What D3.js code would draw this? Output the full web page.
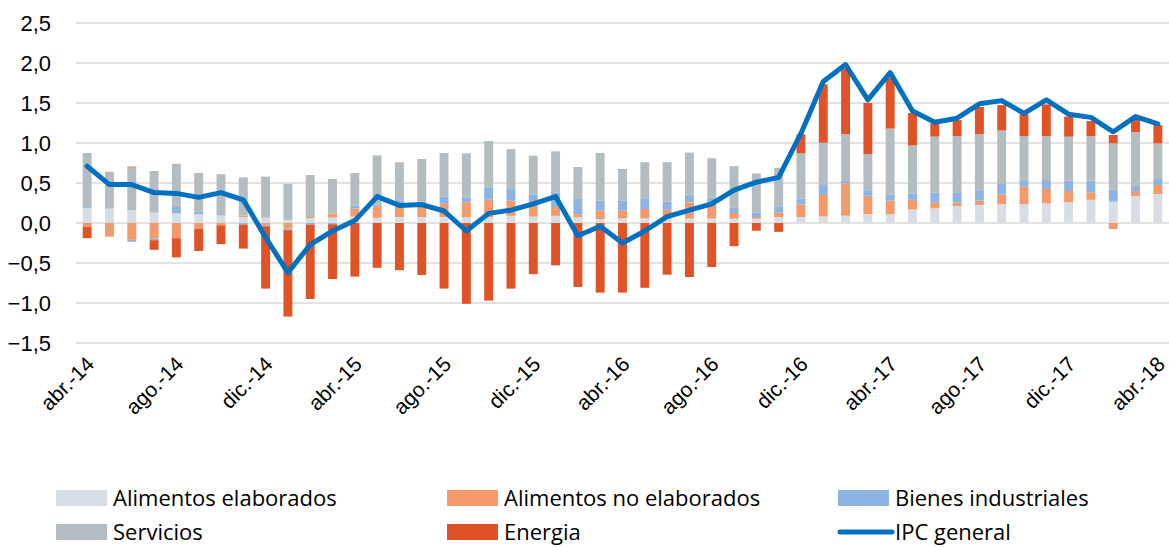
<!DOCTYPE html>
<html>
<head>
<meta charset="utf-8">
<script src="https://cdn.jsdelivr.net/npm/d3@7"></script>
<style>
  body { margin: 0; background: #fff; }
  svg { display: block; font-family: "Open Sans", Lato, sans-serif; }
  .grid line { stroke: #d9d9d9; stroke-width: 1.5; }
  .y-axis text { font-size: 22px; fill: #000; }
  .x-axis text { font-size: 21px; fill: #000; }
  .legend text { font-size: 22px; fill: #000; }
</style>
</head>
<body>
<div id="chart"></div>
<script>
(function (d3) {
    'use strict';

    var months = [
        'abr.-14', 'may.-14', 'jun.-14', 'jul.-14', 'ago.-14', 'sep.-14', 'oct.-14', 'nov.-14', 'dic.-14',
        'ene.-15', 'feb.-15', 'mar.-15', 'abr.-15', 'may.-15', 'jun.-15', 'jul.-15', 'ago.-15', 'sep.-15',
        'oct.-15', 'nov.-15', 'dic.-15', 'ene.-16', 'feb.-16', 'mar.-16', 'abr.-16', 'may.-16', 'jun.-16',
        'jul.-16', 'ago.-16', 'sep.-16', 'oct.-16', 'nov.-16', 'dic.-16', 'ene.-17', 'feb.-17', 'mar.-17',
        'abr.-17', 'may.-17', 'jun.-17', 'jul.-17', 'ago.-17', 'sep.-17', 'oct.-17', 'nov.-17', 'dic.-17',
        'ene.-18', 'feb.-18', 'mar.-18', 'abr.-18'
    ];

    var alimentosElaborados = [
        0.19, 0.18, 0.16, 0.13, 0.12, 0.11, 0.095, 0.075, 0.065,
        0.04, 0.06, 0.067, 0.08, 0.065, 0.075, 0.075, 0.075, 0.07,
        0.07, 0.09, 0.08, 0.09, 0.07, 0.05, 0.058, 0.058, 0.054,
        0.054, 0.054, 0.054, 0.054, 0.075, 0.075, 0.083, 0.092, 0.11,
        0.11, 0.17, 0.183, 0.21, 0.225, 0.237, 0.237, 0.246, 0.258,
        0.29, 0.267, 0.337, 0.362
    ];
    var alimentosNoElaborados = [
        -0.05, -0.17, -0.21, -0.195, -0.19, -0.07, -0.03, 0.015, -0.03,
        -0.07, 0.015, 0.05, 0.10, 0.145, 0.14, 0.175, 0.165, 0.19,
        0.22, 0.19, 0.178, 0.11, 0.04, 0.104, 0.096, 0.117, 0.113,
        0.204, 0.204, 0.071, 0.021, 0.058, 0.158, 0.267, 0.404, 0.23,
        0.17, 0.12, 0.077, 0.046, 0.055, 0.12, 0.217, 0.179, 0.142,
        0.09, -0.075, 0.062, 0.112
    ];
    var bienesIndustriales = [
        0.01, 0, -0.025, -0.02, 0.08, 0.03, 0.005, -0.02, -0.01,
        -0.02, -0.02, -0.015, 0.035, 0.02, 0.07, 0.02, 0.09, 0.06,
        0.156, 0.145, 0.096, 0.183, 0.19, 0.129, 0.129, 0.135, 0.103,
        0.096, 0.062, 0.071, 0.058, 0.077, 0.075, 0.125, 0.029, 0.07,
        0.074, 0.077, 0.12, 0.12, 0.12, 0.13, 0.086, 0.112, 0.13,
        0.15, 0.15, 0.062, 0.075
    ];
    var servicios = [
        0.675, 0.46, 0.535, 0.52, 0.54, 0.485, 0.51, 0.48, 0.515,
        0.45, 0.525, 0.433, 0.41, 0.615, 0.475, 0.53, 0.545, 0.55,
        0.58, 0.50, 0.486, 0.513, 0.40, 0.592, 0.392, 0.45, 0.49,
        0.526, 0.49, 0.514, 0.487, 0.48, 0.562, 0.529, 0.585, 0.45,
        0.826, 0.603, 0.70, 0.71, 0.71, 0.67, 0.547, 0.55, 0.549,
        0.557, 0.579, 0.675, 0.446
    ];
    var energia = [
        -0.14, 0, 0.01, -0.12, -0.24, -0.28, -0.235, -0.30, -0.78,
        -1.08, -0.93, -0.685, -0.67, -0.56, -0.59, -0.65, -0.82, -1.01,
        -0.97, -0.82, -0.64, -0.53, -0.80, -0.87, -0.87, -0.81, -0.646,
        -0.675, -0.55, -0.29, -0.096, -0.11, 0.238, 0.729, 0.815, 0.64,
        0.637, 0.405, 0.166, 0.20, 0.34, 0.317, 0.272, 0.395, 0.251,
        0.187, 0.104, 0.172, 0.229
    ];
    var ipcGeneral = [
        0.71, 0.48, 0.48, 0.38, 0.37, 0.32, 0.38, 0.29, -0.18,
        -0.62, -0.27, -0.10, 0.03, 0.33, 0.22, 0.23, 0.15, -0.10,
        0.12, 0.16, 0.24, 0.33, -0.16, -0.04, -0.25, -0.10, 0.08,
        0.16, 0.24, 0.41, 0.51, 0.57, 1.12, 1.77, 1.98, 1.54,
        1.88, 1.40, 1.26, 1.31, 1.49, 1.53, 1.37, 1.54, 1.36,
        1.32, 1.14, 1.33, 1.24
    ];

    var yTicks = [-1.5, -1.0, -0.5, 0, 0.5, 1.0, 1.5, 2.0, 2.5];

    var seriesNames = ['Alimentos elaborados', 'Alimentos no elaborados', 'Bienes industriales', 'Servicios', 'Energia'];
    var seriesValues = [alimentosElaborados, alimentosNoElaborados, bienesIndustriales, servicios, energia];
    var colors = ['#d6dde4', '#f4996a', '#8db3e2', '#b3bdc1', '#e05326'];
    var lineColor = '#0070c0';

    // Dimensions of the chart.
    var margin = {top: 23, right: 0, bottom: 205, left: 76};
    var width = 1169 - margin.left - margin.right;
    var height = 548 - margin.top - margin.bottom;

    var x = d3.scaleBand().domain(months).range([0, width]).paddingInner(0.6).paddingOuter(0.3);
    var xc = function (m) { return x(m) + x.bandwidth() / 2; };
    var y = d3.scaleLinear().domain([-1.5, 2.5]).range([height, 0]);

    // Table for the stack layout.
    var table = months.map(function (m, i) {
        var row = {month: m};
        seriesNames.forEach(function (s, j) { row[s] = seriesValues[j][i]; });
        return row;
    });

    var stack = d3.stack().keys(seriesNames).offset(d3.stackOffsetDiverging);
    var layers = stack(table);

    var svg = d3.select('#chart').append('svg')
        .attr('width', 1169)
        .attr('height', 548)
    ;
    var vis = svg.append('g')
        .attr('transform', 'translate(' + margin.left + ',' + margin.top + ')')
    ;

    // Gridlines
    vis.append('g')
        .attr('class', 'grid')
        .selectAll('line')
        .data(yTicks)
        .enter().append('line')
        .attr('x1', 0)
        .attr('x2', width)
        .attr('y1', function (d) { return y(d); })
        .attr('y2', function (d) { return y(d); })
    ;

    // Y axis labels
    var yAxis = vis.append('g')
        .attr('class', 'y-axis')
        .attr('transform', 'translate(-25,0)')
        .call(d3.axisLeft(y).tickValues(yTicks).tickSize(0).tickPadding(0)
            .tickFormat(function (d) { return d3.format('.1f')(d).replace('.', ','); }))
    ;
    yAxis.select('.domain').remove();

    // Bars
    vis.append('g')
        .selectAll('g')
        .data(layers)
        .enter().append('g')
        .attr('fill', function (d, i) { return colors[i]; })
        .selectAll('rect')
        .data(function (d) { return d; })
        .enter().append('rect')
        .attr('x', function (d) { return x(d.data.month); })
        .attr('width', x.bandwidth())
        .attr('y', function (d) { return y(Math.max(d[0], d[1])); })
        .attr('height', function (d) { return Math.abs(y(d[0]) - y(d[1])); })
    ;

    // IPC line
    var valueLine = d3.line()
        .x(function (d, i) { return xc(months[i]); })
        .y(function (d) { return y(d); })
    ;
    vis.append('path')
        .datum(ipcGeneral)
        .attr('fill', 'none')
        .attr('stroke', lineColor)
        .attr('stroke-width', 5)
        .attr('stroke-linejoin', 'round')
        .attr('stroke-linecap', 'round')
        .attr('d', valueLine)
    ;

    // X axis labels, every fourth month
    var xAxis = vis.append('g')
        .attr('class', 'x-axis')
        .attr('transform', 'translate(0,' + (height + 12) + ')')
        .call(d3.axisBottom(x)
            .tickValues(months.filter(function (m, i) { return i % 4 === 0; }))
            .tickSize(0).tickPadding(0))
    ;
    xAxis.select('.domain').remove();
    xAxis.selectAll('text')
        .attr('text-anchor', 'end')
        .attr('dy', '0.7em')
        .attr('transform', 'translate(-2,0) rotate(-45)')
    ;

    // Legend
    var legendItems = [
        {name: 'Alimentos elaborados', color: colors[0], x: 56, y: 498},
        {name: 'Alimentos no elaborados', color: colors[1], x: 447, y: 498},
        {name: 'Bienes industriales', color: colors[2], x: 838, y: 498},
        {name: 'Servicios', color: colors[3], x: 56, y: 532},
        {name: 'Energia', color: colors[4], x: 447, y: 532},
        {name: 'IPC general', color: lineColor, x: 838, y: 532, line: true}
    ];
    var legend = svg.append('g').attr('class', 'legend')
        .selectAll('g')
        .data(legendItems)
        .enter().append('g')
        .attr('transform', function (d) { return 'translate(' + d.x + ',' + d.y + ')'; })
    ;
    legend.filter(function (d) { return !d.line; }).append('rect')
        .attr('x', 0)
        .attr('y', -8)
        .attr('width', 51)
        .attr('height', 16)
        .attr('fill', function (d) { return d.color; })
    ;
    legend.filter(function (d) { return d.line; }).append('line')
        .attr('x1', 2)
        .attr('x2', 54)
        .attr('stroke', lineColor)
        .attr('stroke-width', 5)
        .attr('stroke-linecap', 'round')
    ;
    legend.append('text')
        .attr('x', 57)
        .attr('dy', '0.35em')
        .text(function (d) { return d.name; })
    ;
})(d3);
</script>
</body>
</html>
